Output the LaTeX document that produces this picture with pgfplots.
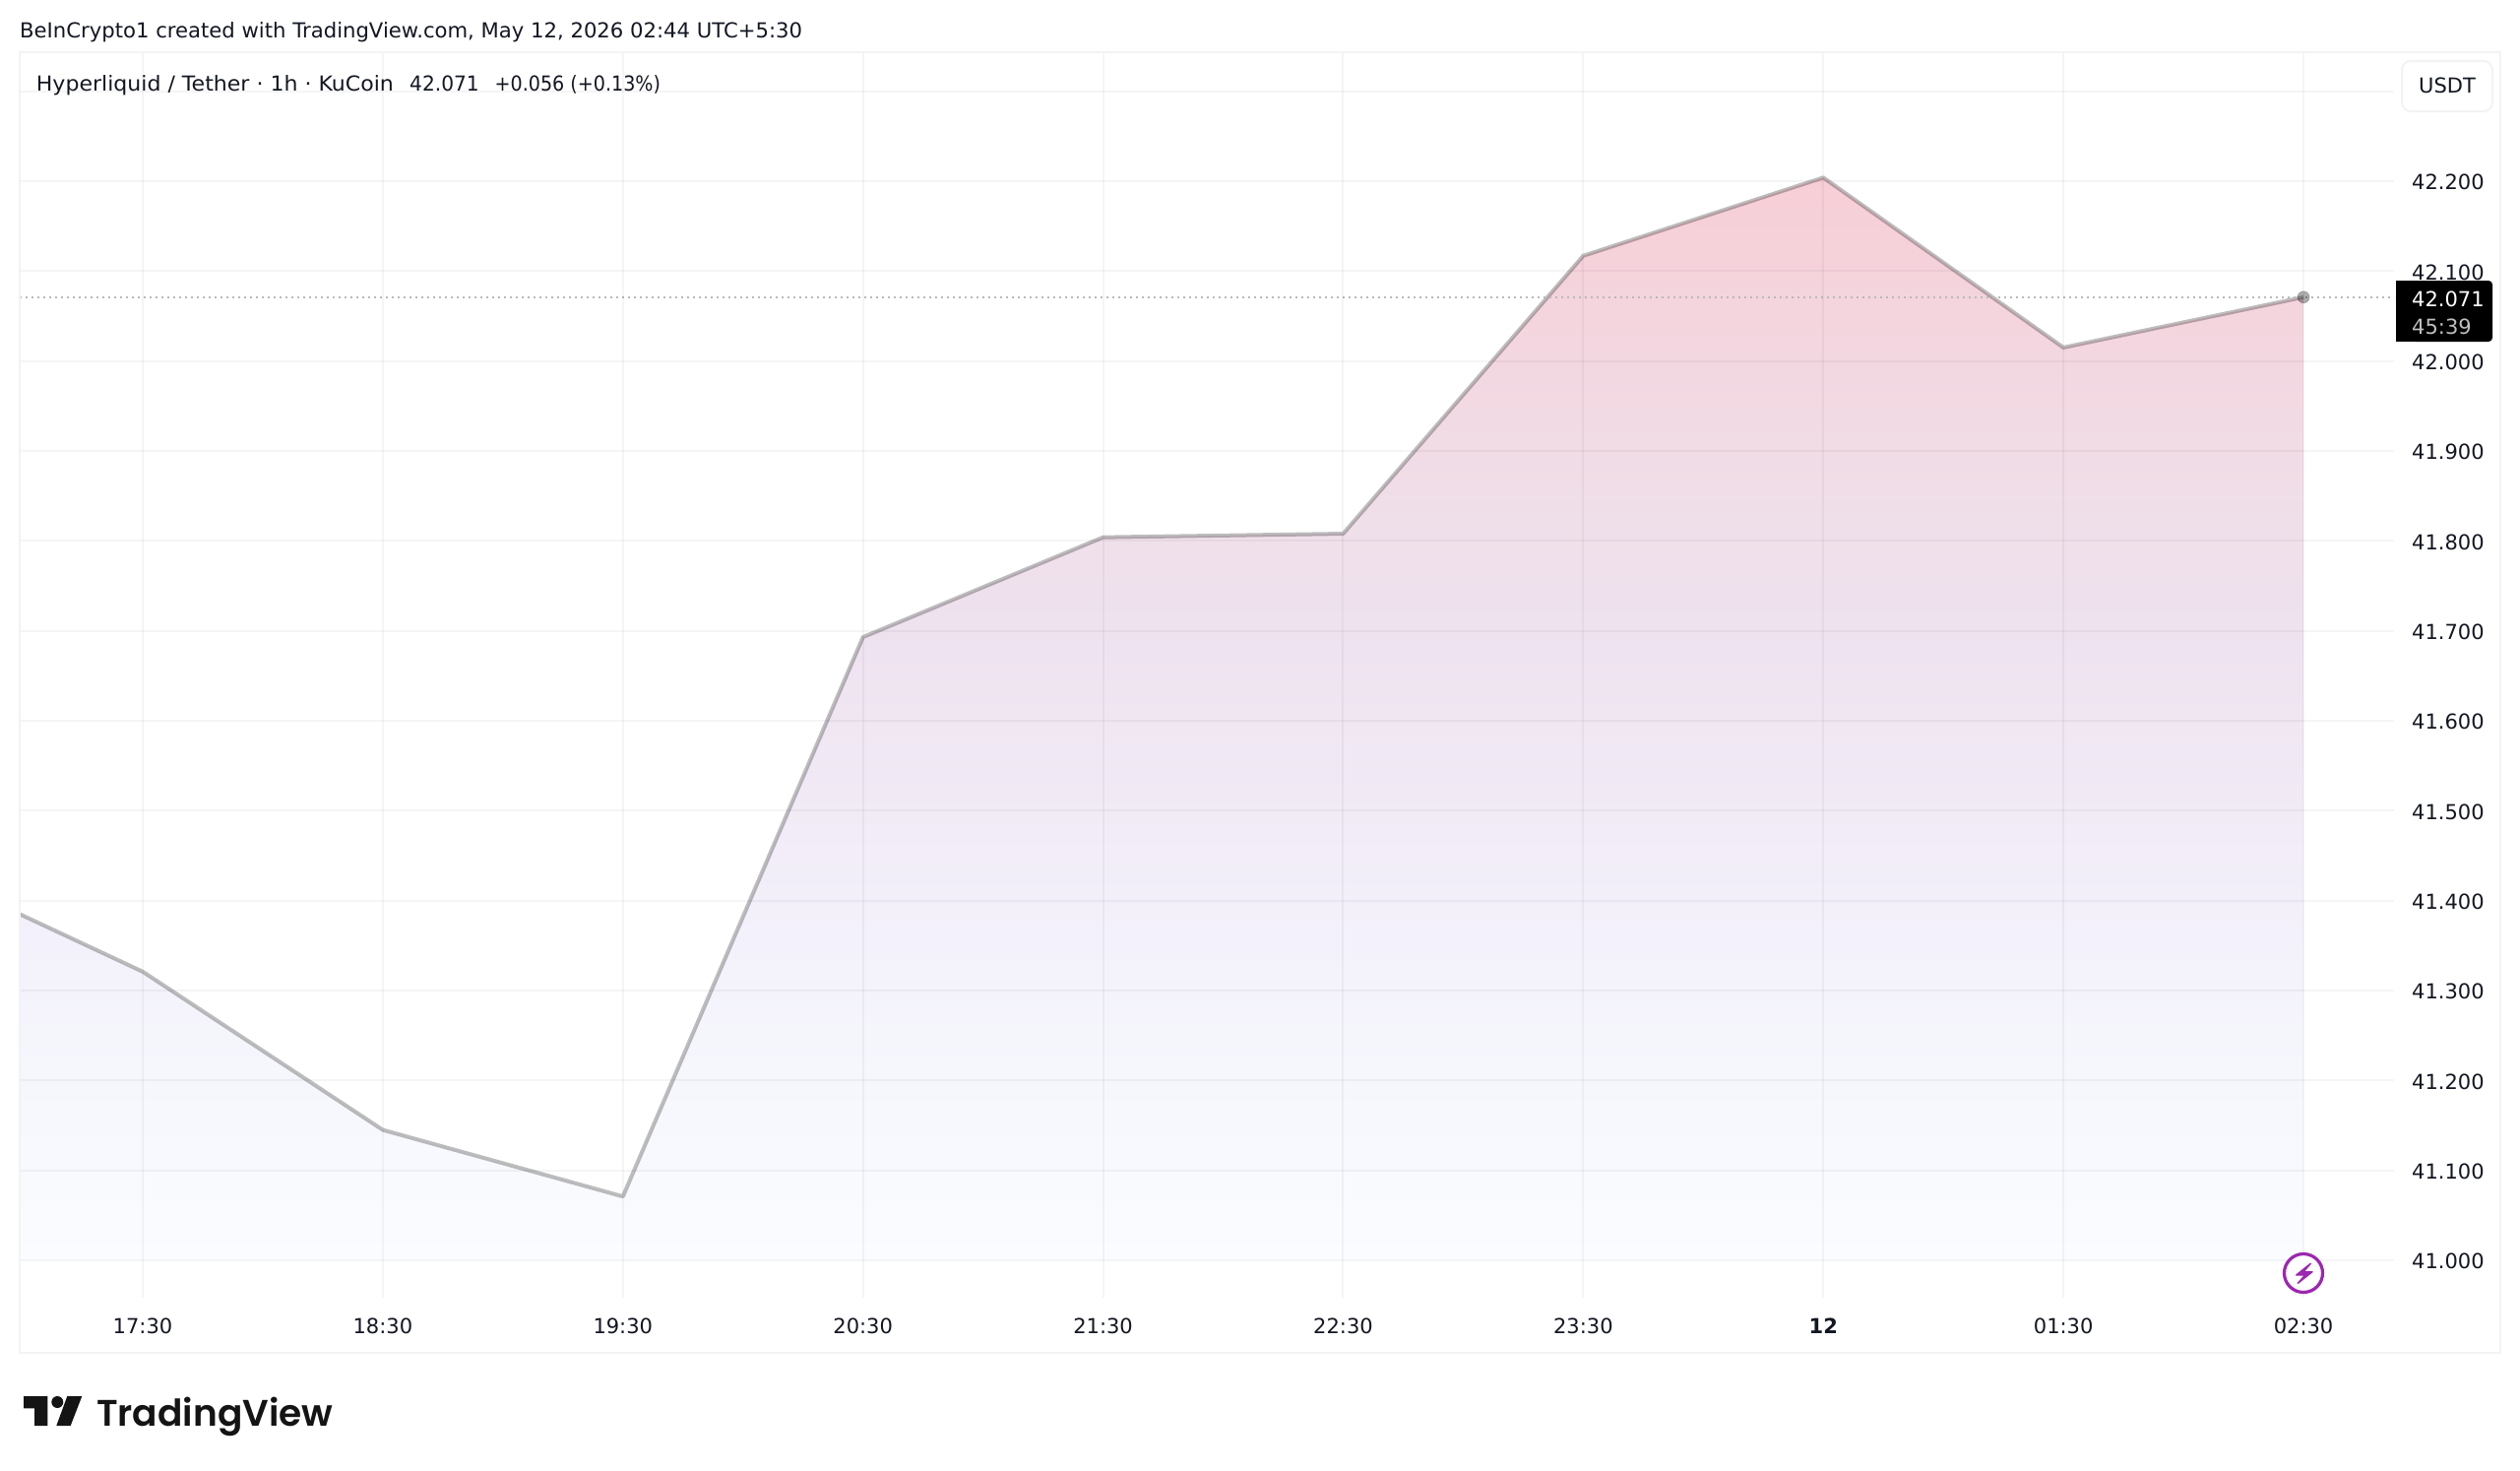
\documentclass[border=0pt]{standalone}
\usepackage{fontspec}
\usepackage{pgfplots}
\pgfplotsset{compat=1.18}
\setmainfont{DejaVu Sans}
\newfontfamily\logofont{Poppins}[UprightFont=* SemiBold]
\definecolor{txt}{HTML}{131722}
\definecolor{g0}{HTML}{FBFCFF}
\definecolor{g1}{HTML}{F6F7FD}
\definecolor{g2}{HTML}{F3F1FB}
\definecolor{g3}{HTML}{EEE2EF}
\definecolor{g4}{HTML}{EFDFE9}
\definecolor{g5}{HTML}{F7CED6}
\definecolor{framec}{HTML}{F3F3F4}
\definecolor{boltc}{HTML}{9C27B0}
\pgfdeclareverticalshading{tvarea}{100bp}{color(0bp)=(g0); color(25bp)=(g0); color(33.2bp)=(g1); color(40bp)=(g2); color(54.1bp)=(g3); color(59.1bp)=(g4); color(75bp)=(g5); color(100bp)=(g5)}
\newcommand{\fs}[1]{\fontsize{#1}{#1}\selectfont}
\begin{document}
\begin{tikzpicture}
\useasboundingbox (0pt,0pt) rectangle (2560pt,-1494pt);
\begin{axis}[
  at={(20pt,-1318pt)}, anchor=south west,
  scale only axis, width=2412pt, height=1265pt,
  xmin=-0.5125, xmax=9.377, ymin=40.9584, ymax=42.3434,
  axis on top,
  axis line style={draw=none},
  major tick length=0pt,
  grid=major,
  grid style={black,opacity=0.04,line width=2pt},
  xtick={0,1,2,3,4,5,6,7,8,9},
  xticklabels={17:30,18:30,19:30,20:30,21:30,22:30,23:30,\textbf{12},01:30,02:30},
  ytick={41,41.1,41.2,41.3,41.4,41.5,41.6,41.7,41.8,41.9,42,42.1,42.2,42.3},
  yticklabels={41.000,41.100,41.200,41.300,41.400,41.500,41.600,41.700,41.800,41.900,42.000,42.100,42.200,},
  yticklabel pos=right,
  tick label style={font=\fs{21},text=txt,inner sep=0pt},
  yticklabel style={yshift=-1.2pt},
  xticklabel shift=21pt,
  yticklabel shift=18pt,
]
\addplot[draw=none,shading=tvarea] coordinates {
 (-0.5125,41) (-0.5125,41.385) (0,41.321) (1,41.145) (2,41.071) (3,41.693) (4,41.804)
 (5,41.808) (6,42.117) (7,42.204) (8,42.015) (9,42.071) (9,41)} -- cycle;
\addplot[black,opacity=0.26,line width=4pt,line join=round] coordinates {
 (-0.5125,41.385) (0,41.321) (1,41.145) (2,41.071) (3,41.693) (4,41.804)
 (5,41.808) (6,42.117) (7,42.204) (8,42.015) (9,42.071)};
\addplot[gray!55,line width=1.6pt,dash pattern=on 2pt off 4pt] coordinates {(-0.5125,42.071) (9.377,42.071)};
\addplot[only marks,mark=*,mark size=6pt,mark options={draw=none,fill=black,opacity=0.32}] coordinates {(9,42.071)};
\end{axis}
\begin{scope}[x=1pt,y=-1pt]
\draw[framec,line width=2pt] (20,53) rectangle (2540,1374);
% USDT box
\draw[framec,line width=2pt,fill=white,rounded corners=9pt] (2440,62) rectangle (2532,113);
\node[anchor=center,inner sep=0pt,font=\fs{21},text=txt] at (2486,87) {USDT};
% last price box
\fill[black,rounded corners=4pt] (2450,285) rectangle (2532,347);
\fill[black] (2434,285) rectangle (2460,347);
\node[anchor=base west,inner sep=0pt,font=\fs{21},text=white] at (2450,311) {42.071};
\node[anchor=base west,inner sep=0pt,font=\fs{21},text=black!25] at (2450,339) {45:39};
% lightning
\draw[boltc,line width=3.2pt,fill=white] (2340,1293) circle (19.5);
\filldraw[boltc,line width=1.4pt,line join=round] (2347.3,1283.3) -- (2332.7,1295) -- (2341.7,1295) -- (2334.3,1303.3) -- (2349,1291.7) -- (2340,1291.7) -- cycle;
% header
\node[anchor=base west,inner sep=0pt,font=\fs{21},text=txt,xscale=1.008] at (20,38) {BeInCrypto1 created with TradingView.com, May 12, 2026 02:44 UTC+5:30};
\node[anchor=base west,inner sep=0pt,font=\fs{21},text=txt,xscale=1.05] at (36.7,92.7) {Hyperliquid / Tether · 1h · KuCoin};
\node[anchor=base west,inner sep=0pt,font=\fs{21},text=txt,xscale=.96] at (416,92.7) {42.071};
\node[anchor=base west,inner sep=0pt,font=\fs{21},text=txt,xscale=.91] at (502.5,92.7) {+0.056 (+0.13\%)};
% logo
\fill[black!92] (24,1418) -- (48.3,1418) -- (48.3,1448) -- (35,1448) -- (35,1430.3) -- (24,1430.3) -- cycle;
\fill[black!92] (58.3,1424) circle (6);
\fill[black!92] (83.3,1418) -- (71.7,1448) -- (57.3,1448) -- (68.3,1418) -- cycle;
\node[anchor=base west,inner sep=0pt,font=\logofont\fs{37.5},text=black!92] at (98,1448) {TradingView};
\end{scope}
\end{tikzpicture}
\end{document}
